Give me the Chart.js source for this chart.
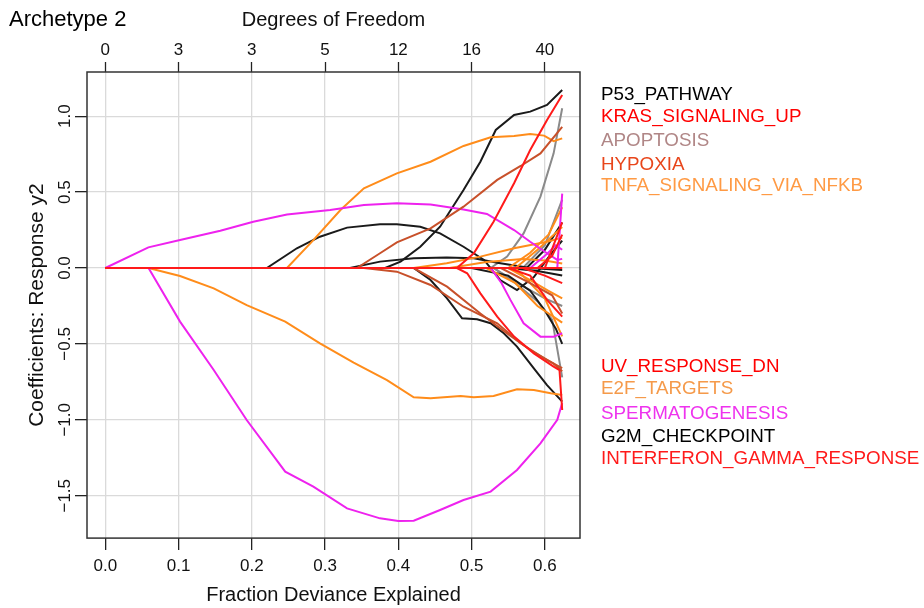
<!DOCTYPE html>
<html>
<head>
<meta charset="utf-8">
<script src="https://cdn.jsdelivr.net/npm/chart.js@4.4.0/dist/chart.umd.min.js"></script>
<style>
  html, body { margin: 0; padding: 0; background: #fff; }
</style>
</head>
<body>
<canvas id="pathChart" width="924" height="608"></canvas>
<script>
// ---- data (x = fraction deviance explained, y = coefficient) ----
const xTicks = [0, 0.1, 0.2, 0.3, 0.4, 0.5, 0.6];
const dfLabels = ['0', '3', '3', '5', '12', '16', '40'];
const yTicks = [-1.5, -1, -0.5, 0, 0.5, 1];

const redPaths = [
    [[0,0],[0.480,0],[0.503,0.097],[0.530,0.305],[0.558,0.558],[0.580,0.777],[0.603,0.975],[0.6237,1.139]],
    [[0,0],[0.480,0],[0.494,-0.035],[0.512,-0.167],[0.535,-0.32],[0.558,-0.452],[0.585,-0.562],[0.612,-0.65],[0.620,-0.672],[0.6237,-0.935]],
    [[0,0],[0.55,0],[0.58,-0.05],[0.603,-0.21],[0.6237,-0.32]],
    [[0,0],[0.59,0],[0.61,0.08],[0.6237,0.22]],
    [[0,0],[0.57,0],[0.60,-0.05],[0.6237,-0.10]],
    [[0,0],[0.60,0],[0.6237,0.30]],
    [[0,0],[0.6237,0]]
];
const brownPaths = [
    [[0,0],[0.3435,0],[0.375,0.097],[0.398,0.169],[0.444,0.261],[0.489,0.404],[0.535,0.58],[0.567,0.672],[0.594,0.755],[0.6237,0.93]],
    [[0,0],[0.353,0],[0.398,-0.024],[0.444,-0.112],[0.489,-0.255],[0.535,-0.364],[0.567,-0.496],[0.603,-0.606],[0.6237,-0.66]],
    [[0,0],[0.421,0],[0.4665,-0.123],[0.512,-0.30],[0.548,-0.43],[0.58,-0.54],[0.612,-0.63],[0.6237,-0.68]],
    [[0,0],[0.54,0],[0.58,-0.1],[0.61,-0.18],[0.6237,-0.3]]
];
const magentaPaths = [
    [[0,0],[0.0588,0.136],[0.102,0.184],[0.157,0.246],[0.202,0.305],[0.248,0.353],[0.307,0.382],[0.353,0.415],[0.398,0.426],[0.444,0.419],[0.489,0.386],[0.521,0.356],[0.558,0.25],[0.58,0.173],[0.603,0.097],[0.617,0.053],[0.6237,0.06]],
    [[0,0],[0.059,0],[0.102,-0.353],[0.148,-0.672],[0.193,-1.001],[0.2456,-1.341],[0.284,-1.44],[0.33,-1.583],[0.375,-1.649],[0.40,-1.666],[0.421,-1.664],[0.457,-1.594],[0.489,-1.528],[0.526,-1.473],[0.562,-1.33],[0.594,-1.155],[0.617,-1.0],[0.6237,-0.89]],
    [[0,0],[0.526,0],[0.541,-0.10],[0.553,-0.21],[0.571,-0.364],[0.594,-0.452],[0.612,-0.452],[0.6237,-0.43]],
    [[0,0],[0.617,0],[0.6237,0.49]],
    [[0,0],[0.58,0],[0.60,0.08],[0.615,0.15],[0.6237,0.12]]
];
const orangePaths = [
    [[0,0],[0.248,0],[0.284,0.184],[0.321,0.382],[0.353,0.525],[0.398,0.623],[0.444,0.70],[0.489,0.804],[0.526,0.861],[0.558,0.869],[0.58,0.883],[0.599,0.872],[0.612,0.836],[0.6237,0.854]],
    [[0,0],[0.059,0],[0.102,-0.053],[0.148,-0.134],[0.193,-0.244],[0.2456,-0.353],[0.293,-0.496],[0.339,-0.623],[0.3845,-0.738],[0.421,-0.852],[0.444,-0.858],[0.485,-0.843],[0.503,-0.852],[0.53,-0.843],[0.562,-0.799],[0.585,-0.803],[0.608,-0.825],[0.6237,-0.837]],
    [[0,0],[0.421,0],[0.466,0.031],[0.512,0.075],[0.558,0.13],[0.603,0.173],[0.6237,0.2]],
    [[0,0],[0.55,0],[0.58,0.1],[0.605,0.22],[0.6237,0.40]],
    [[0,0],[0.56,0],[0.59,0.12],[0.6237,0.27]],
    [[0,0],[0.47,0],[0.52,0.04],[0.57,0.06],[0.60,0.05],[0.6237,0.03]],
    [[0,0],[0.55,0],[0.58,-0.08],[0.605,-0.15],[0.6237,-0.2]],
    [[0,0],[0.52,0],[0.56,-0.1],[0.59,-0.25],[0.6237,-0.36]],
    [[0,0],[0.56,0],[0.60,-0.2],[0.6237,-0.45]]
];
const blackPaths = [
    [[0,0],[0.382,0],[0.403,0.042],[0.430,0.14],[0.457,0.272],[0.489,0.514],[0.512,0.70],[0.533,0.909],[0.558,1.008],[0.580,1.03],[0.603,1.074],[0.6237,1.172]],
    [[0,0],[0.2205,0],[0.2615,0.13],[0.293,0.206],[0.33,0.266],[0.375,0.288],[0.398,0.288],[0.43,0.272],[0.457,0.228],[0.489,0.14],[0.517,0.053],[0.539,-0.079],[0.562,-0.145],[0.585,-0.06],[0.608,0.09],[0.6237,0.18]],
    [[0,0],[0.421,0],[0.444,-0.079],[0.4665,-0.2],[0.487,-0.3315],[0.5075,-0.338],[0.526,-0.364],[0.544,-0.43],[0.562,-0.518],[0.585,-0.661],[0.603,-0.771],[0.6237,-0.88]],
    [[0,0],[0.334,0],[0.375,0.042],[0.421,0.064],[0.466,0.07],[0.503,0.064],[0.535,0.035],[0.58,0],[0.6237,-0.013]],
    [[0,0],[0.50,0],[0.55,-0.05],[0.58,-0.15],[0.60,-0.28],[0.615,-0.40],[0.6237,-0.50]],
    [[0,0],[0.575,0],[0.60,0.12],[0.6237,0.30]],
    [[0,0],[0.55,0],[0.59,-0.02],[0.6237,-0.05]]
];
const grayPaths = [
    [[0,0],[0.526,0],[0.5485,0.075],[0.571,0.228],[0.594,0.47],[0.612,0.755],[0.6237,1.052]],
    [[0,0],[0.53,0],[0.56,-0.1],[0.59,-0.22],[0.61,-0.34],[0.6237,-0.72]],
    [[0,0],[0.57,0],[0.60,0.15],[0.6237,0.45]],
    [[0,0],[0.53,0],[0.57,-0.12],[0.60,-0.2],[0.6237,-0.25]]
];

// pathway labels on the right, placed at coefficient heights
const labelNames = ['P53_PATHWAY', 'KRAS_SIGNALING_UP', 'APOPTOSIS', 'HYPOXIA', 'TNFA_SIGNALING_VIA_NFKB',
    'UV_RESPONSE_DN', 'E2F_TARGETS', 'SPERMATOGENESIS', 'G2M_CHECKPOINT', 'INTERFERON_GAMMA_RESPONSE'];
const labelValues = [1.138, 0.999, 0.841, 0.677, 0.54, -0.652, -0.799, -0.96, -1.113, -1.256];
const labelColors = ['#000000', '#ff0000', '#b08686', '#e8451a', '#ff9a44',
    '#ff0000', '#f59a4a', '#ee33ee', '#000000', '#ff1a1a'];

// drawing order: first group ends up on top
const pathGroups = [
    { paths: redPaths, color: '#ff1a1a' },
    { paths: brownPaths, color: '#c8502a' },
    { paths: magentaPaths, color: '#ee22ee' },
    { paths: orangePaths, color: '#ff8c1a' },
    { paths: blackPaths, color: '#1a1a1a' },
    { paths: grayPaths, color: '#8a8a8a' }
];

const datasets = [];
pathGroups.forEach(function(group) {
    group.paths.forEach(function(path) {
        datasets.push({
            data: path.map(p => ({ x: p[0], y: p[1] })),
            borderColor: group.color,
            borderWidth: 2,
            pointRadius: 0,
            tension: 0,
            fill: false
        });
    });
});

const FONT = '"Liberation Sans", Arial, Helvetica, sans-serif';
Chart.defaults.font.family = FONT;
Chart.defaults.color = '#111';

function fmtTick(v) {
    const s = Math.abs(v).toFixed(1);
    return v < 0 ? '\u2212' + s : s;
}

// box, rotated y tick labels, side labels and panel title
const decorations = {
    id: 'decorations',
    afterDraw(chart) {
        const { ctx, chartArea, scales } = chart;
        ctx.save();
        ctx.strokeStyle = '#333';
        ctx.lineWidth = 1.5;
        ctx.strokeRect(chartArea.left, chartArea.top,
            chartArea.right - chartArea.left, chartArea.bottom - chartArea.top);

        ctx.fillStyle = '#111';
        ctx.font = '17px ' + FONT;
        ctx.textAlign = 'center';
        ctx.textBaseline = 'middle';
        yTicks.forEach(function(v) {
            ctx.save();
            ctx.translate(chartArea.left - 22, scales.y.getPixelForValue(v));
            ctx.rotate(-Math.PI / 2);
            ctx.fillText(fmtTick(v), 0, 0);
            ctx.restore();
        });

        ctx.font = '18.8px ' + FONT;
        ctx.textAlign = 'left';
        labelNames.forEach(function(name, i) {
            ctx.fillStyle = labelColors[i];
            ctx.fillText(name, chartArea.right + 21, scales.y.getPixelForValue(labelValues[i]));
        });

        ctx.fillStyle = '#000';
        ctx.font = '22px ' + FONT;
        ctx.fillText('Archetype 2', 9, 20);
        ctx.restore();
    }
};

new Chart(document.getElementById('pathChart').getContext('2d'), {
    type: 'line',
    data: { datasets: datasets },
    plugins: [decorations],
    options: {
        responsive: false,
        animation: false,
        devicePixelRatio: 1,
        layout: { padding: { left: 20, right: 344, top: 8.6, bottom: 1 } },
        plugins: { legend: { display: false }, tooltip: { enabled: false } },
        scales: {
            x: {
                type: 'linear',
                position: 'bottom',
                min: -0.025,
                max: 0.648,
                afterBuildTicks: function(axis) { axis.ticks = xTicks.map(v => ({ value: v })); },
                ticks: { callback: v => v.toFixed(1), font: { size: 17 }, padding: 6, maxRotation: 0, color: '#111' },
                grid: { color: '#dadada', lineWidth: 1.3, tickColor: '#222', tickLength: 12, tickWidth: 1.3 },
                border: { display: false },
                title: { display: true, text: 'Fraction Deviance Explained', font: { size: 20 }, padding: { top: 0.5, bottom: 0 }, color: '#111' }
            },
            x2: {
                type: 'linear',
                position: 'top',
                min: -0.025,
                max: 0.648,
                afterBuildTicks: function(axis) { axis.ticks = xTicks.map(v => ({ value: v })); },
                ticks: { callback: (v, i) => dfLabels[i], font: { size: 17 }, padding: 1, maxRotation: 0, color: '#111' },
                grid: { drawOnChartArea: false, tickColor: '#222', tickLength: 10, tickWidth: 1.3 },
                border: { display: false },
                title: { display: true, text: 'Degrees of Freedom', font: { size: 20 }, padding: { top: 0, bottom: 7 }, color: '#111' }
            },
            y: {
                type: 'linear',
                min: -1.779,
                max: 1.291,
                afterBuildTicks: function(axis) { axis.ticks = yTicks.map(v => ({ value: v })); },
                ticks: { display: false },
                grid: { color: '#dadada', lineWidth: 1.3, tickColor: '#222', tickLength: 12, tickWidth: 1.3 },
                border: { display: false },
                title: { display: true, text: 'Coefficients: Response y2', font: { size: 21 }, padding: { top: 5, bottom: 24.8 }, color: '#111' }
            }
        }
    }
});
</script>
</body>
</html>
